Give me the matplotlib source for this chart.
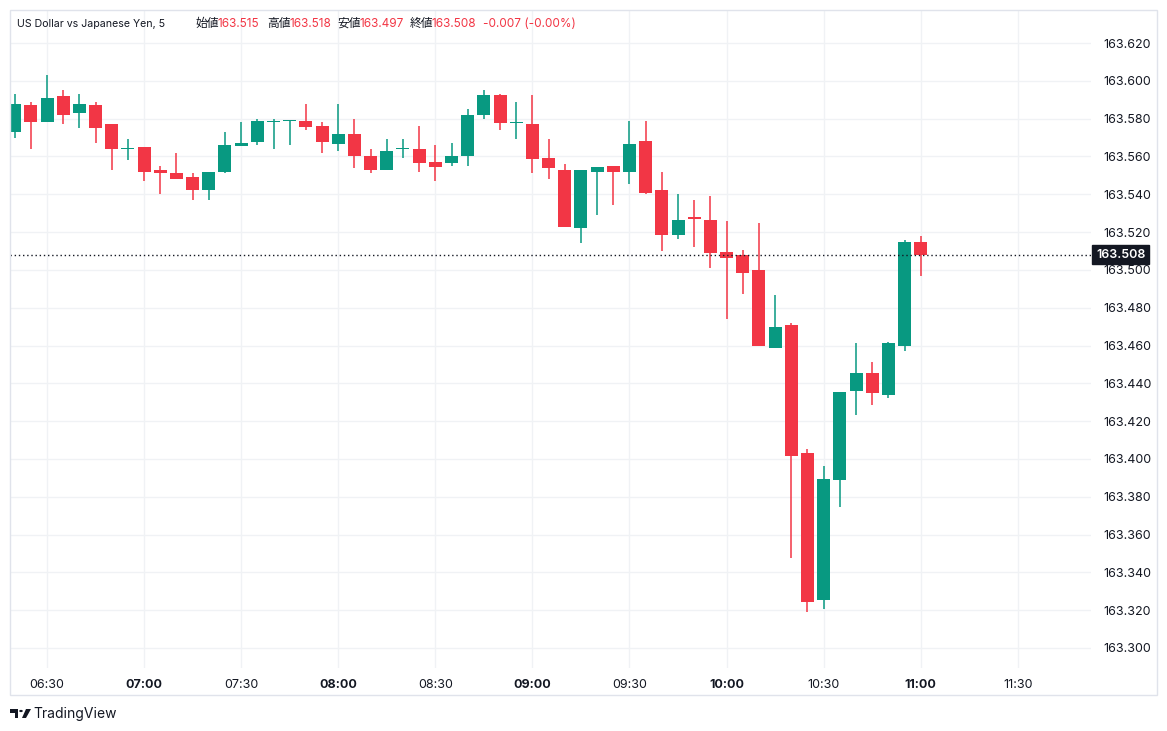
import matplotlib
matplotlib.use("Agg")
import matplotlib.pyplot as plt
from matplotlib.patches import Rectangle, Polygon, Circle
from matplotlib.transforms import blended_transform_factory

# ---------------- data ----------------
times = ["06:20", "06:25", "06:30", "06:35", "06:40", "06:45", "06:50", "06:55",
         "07:00", "07:05", "07:10", "07:15", "07:20", "07:25", "07:30", "07:35",
         "07:40", "07:45", "07:50", "07:55", "08:00", "08:05", "08:10", "08:15",
         "08:20", "08:25", "08:30", "08:35", "08:40", "08:45", "08:50", "08:55",
         "09:00", "09:05", "09:10", "09:15", "09:20", "09:25", "09:30", "09:35",
         "09:40", "09:45", "09:50", "09:55", "10:00", "10:05", "10:10", "10:15",
         "10:20", "10:25", "10:30", "10:35", "10:40", "10:45", "10:50", "10:55",
         "11:00"]
opens = [163.573, 163.587, 163.578, 163.592, 163.583, 163.587, 163.577, 163.5640,
         163.565, 163.553, 163.551, 163.549, 163.542, 163.552, 163.5655, 163.5675,
         163.578, 163.5786, 163.579, 163.576, 163.5665, 163.572, 163.560, 163.553,
         163.5638, 163.564, 163.557, 163.5565, 163.560, 163.582, 163.5925, 163.5775,
         163.577, 163.559, 163.553, 163.522, 163.5518, 163.5547, 163.5518, 163.568,
         163.542, 163.5186, 163.528, 163.5263, 163.5095, 163.508, 163.500, 163.4586,
         163.471, 163.4032, 163.3255, 163.389, 163.436, 163.4453, 163.4339, 163.4597,
         163.515]
highs = [163.593, 163.589, 163.603, 163.595, 163.593, 163.589, 163.577, 163.569,
         163.565, 163.555, 163.562, 163.551, 163.552, 163.573, 163.578, 163.580,
         163.580, 163.579, 163.588, 163.578, 163.588, 163.580, 163.564, 163.569,
         163.569, 163.576, 163.566, 163.567, 163.585, 163.595, 163.593, 163.589,
         163.5925, 163.569, 163.556, 163.553, 163.5542, 163.5547, 163.579, 163.579,
         163.552, 163.540, 163.537, 163.539, 163.5258, 163.5105, 163.5247, 163.4868,
         163.472, 163.4053, 163.3963, 163.4353, 163.4611, 163.4511, 163.4621, 163.5158,
         163.518]
lows = [163.570, 163.564, 163.578, 163.577, 163.575, 163.567, 163.553, 163.558,
        163.547, 163.540, 163.548, 163.537, 163.537, 163.551, 163.5655, 163.566,
        163.564, 163.566, 163.574, 163.562, 163.563, 163.554, 163.551, 163.553,
        163.559, 163.552, 163.547, 163.555, 163.555, 163.580, 163.574, 163.569,
        163.551, 163.548, 163.5228, 163.5144, 163.529, 163.5344, 163.5454, 163.540,
        163.510, 163.5165, 163.5123, 163.501, 163.474, 163.487, 163.4597, 163.4586,
        163.3474, 163.3191, 163.3207, 163.3744, 163.4233, 163.4286, 163.4323, 163.457,
        163.497]
closes = [163.588, 163.578, 163.591, 163.582, 163.588, 163.575, 163.564, 163.5646,
          163.552, 163.551, 163.548, 163.542, 163.552, 163.566, 163.567, 163.579,
          163.579, 163.5790, 163.5755, 163.5675, 163.572, 163.560, 163.553, 163.563,
          163.5644, 163.5565, 163.5545, 163.560, 163.582, 163.5925, 163.5775, 163.578,
          163.5588, 163.5537, 163.5228, 163.553, 163.5542, 163.5518, 163.5668, 163.5407,
          163.5186, 163.5263, 163.527, 163.509, 163.5065, 163.4986, 163.4597, 163.470,
          163.4018, 163.3242, 163.3895, 163.4353, 163.4453, 163.4349, 163.4611, 163.5147,
          163.508]

price_ticks = [163.300, 163.320, 163.340, 163.360, 163.380, 163.400, 163.420, 163.440,
               163.460, 163.480, 163.500, 163.520, 163.540, 163.560, 163.580, 163.600,
               163.620]
time_ticks = ["06:30", "07:00", "07:30", "08:00", "08:30", "09:00", "09:30", "10:00",
              "10:30", "11:00", "11:30"]
bold_ticks = ["07:00", "08:00", "09:00", "10:00", "11:00"]
last_price = 163.508
symbol = "US Dollar vs Japanese Yen, 5"
ohlc_labels = ["始値", "高値", "安値", "終値"]
ohlc_values = ["163.515", "163.518", "163.497", "163.508"]
change_text = "-0.007 (-0.00%)"

# ---------------- style ----------------
UP = "#089981"
DOWN = "#F23645"
TEXT = "#131722"
GRID = "#f0f2f5"
FONT = ["Inter", "Noto Sans CJK JP", "DejaVu Sans"]
plt.rcParams["font.family"] = FONT

W, H = 1167, 731
fig = plt.figure(figsize=(W / 100, H / 100), dpi=100)
fig.patch.set_facecolor("white")


def fx(x):
    return x / W


def fy(y):
    return 1 - y / H


ax_l, ax_r, ax_t, ax_b = 10, 1091, 10, 668
ax = fig.add_axes([fx(ax_l), fy(ax_b), (ax_r - ax_l) / W, (ax_b - ax_t) / H])
ax.set_facecolor("white")


def to_min(s):
    h, m = s.split(":")
    return int(h) * 60 + int(m) - 360


xs = [to_min(t) for t in times]

# x scale: 5 minutes = 16.18 px, 06:30 at pixel 47
px_per_min = 16.18 / 5
x0 = 30 - (47 - ax_l) / px_per_min
x1 = 30 + (ax_r - 47) / px_per_min
ax.set_xlim(x0, x1)
# y scale: 163.620 at 43 px, 163.300 at 648 px
v_per_px = 0.32 / (648 - 43)
ytop = 163.620 + (43 - ax_t) * v_per_px
ybot = 163.300 - (ax_b - 648) * v_per_px
ax.set_ylim(ybot, ytop)

# grid
for p in price_ticks:
    ax.axhline(p, color=GRID, lw=1, zorder=0)
for t in time_ticks:
    ax.axvline(to_min(t), color=GRID, lw=1, zorder=0)

# candles
body_w = 13 / px_per_min
min_h = 1.3 * v_per_px
for x, o, h, l, c in zip(xs, opens, highs, lows, closes):
    col = UP if c >= o else DOWN
    ax.vlines(x, l, h, color=col, lw=1.1, zorder=2)
    bottom = min(o, c)
    height = max(abs(c - o), min_h)
    ax.bar(x, height, bottom=bottom, width=body_w, color=col, lw=0, zorder=3)

# last price line
ax.axhline(last_price, color="#131722", lw=1.0, ls=(0, (1, 2)), zorder=4)

# axes cosmetics
for s in ax.spines.values():
    s.set_visible(False)
ax.set_xticks([to_min(t) for t in time_ticks])
ax.set_xticklabels(time_ticks)
ax.tick_params(axis="x", length=0, pad=8, labelsize=9, colors=TEXT)
for lab in ax.get_xticklabels():
    if lab.get_text() in bold_ticks:
        lab.set_fontweight("bold")
ax.yaxis.tick_right()
ax.set_yticks(price_ticks)
ax.set_yticklabels([f"{p:.3f}" for p in price_ticks])
ax.tick_params(axis="y", length=0, pad=9, labelsize=9, colors=TEXT)

# last price label
trans = blended_transform_factory(ax.transAxes, ax.transData)
ax.text(1.0 + 5 / (ax_r - ax_l), last_price, f"{last_price:.3f}", transform=trans,
        ha="left", va="center", fontsize=9, color="white", fontweight="semibold",
        bbox=dict(boxstyle="square,pad=0.3", fc=TEXT, ec=TEXT), zorder=6,
        clip_on=False)

# outer border
fig.patches.append(Rectangle((fx(9.5), fy(695)), (1157 - 9.5) / W, (695 - 10) / H,
                             transform=fig.transFigure, fill=False, ec="#e0e3eb", lw=1))

# title (legend line)
title_x = [17, 195, 218, 267, 290, 337, 360, 410, 432, 483]
pieces = [(symbol, TEXT, 7.6)]
for lab, val in zip(ohlc_labels, ohlc_values):
    pieces.append((lab, TEXT, 8.5))
    pieces.append((val, DOWN, 8.5))
pieces.append((change_text, DOWN, 8.5))
for (txt, col, fs), x in zip(pieces, title_x):
    fig.text(fx(x), fy(24), txt, color=col, fontsize=fs, va="center", ha="left")

# TradingView logo
logo = Polygon([(fx(10), fy(709)), (fx(18), fy(709)), (fx(18), fy(718)), (fx(14.5), fy(718)),
                (fx(14.5), fy(712.5)), (fx(10), fy(712.5))], closed=True,
               transform=fig.transFigure, fc=TEXT, ec="none")
fig.patches.append(logo)
fig.patches.append(Circle((fx(21), fy(711)), 1.8 / W, transform=fig.transFigure, fc=TEXT, ec="none"))
fig.patches.append(Polygon([(fx(26), fy(709)), (fx(31), fy(709)), (fx(26), fy(718)),
                            (fx(22), fy(718))], closed=True,
                           transform=fig.transFigure, fc=TEXT, ec="none"))
fig.text(fx(33), fy(714), "TradingView", fontsize=10, color=TEXT, va="center", ha="left")

fig.savefig("out.png", dpi=100, facecolor="white")
